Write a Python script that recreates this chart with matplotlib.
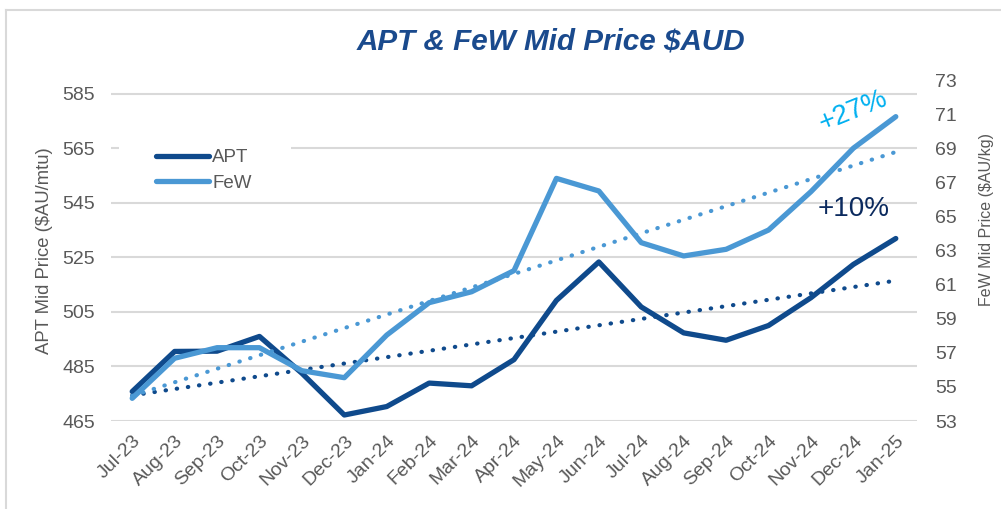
import numpy as np
import matplotlib
matplotlib.use("Agg")
import matplotlib.pyplot as plt
from matplotlib.lines import Line2D
from matplotlib.patches import Rectangle

plt.rcParams['font.family'] = ['Liberation Sans', 'DejaVu Sans']

months = ["Jul-23", "Aug-23", "Sep-23", "Oct-23", "Nov-23", "Dec-23", "Jan-24",
          "Feb-24", "Mar-24", "Apr-24", "May-24", "Jun-24", "Jul-24", "Aug-24",
          "Sep-24", "Oct-24", "Nov-24", "Dec-24", "Jan-25"]
apt = [475.8, 490.5, 490.6, 496.0, 482.5, 467.2, 470.3, 478.9, 477.9, 487.5,
       509.2, 523.3, 506.8, 497.3, 494.6, 500.0, 510.2, 522.4, 531.9]
few = [54.33, 56.68, 57.30, 57.30, 55.95, 55.54, 58.04, 59.94, 60.58, 61.82,
       67.23, 66.49, 63.46, 62.68, 63.07, 64.20, 66.45, 69.00, 70.85]
left_ticks = [465, 485, 505, 525, 545, 565, 585]
right_ticks = [53, 55, 57, 59, 61, 63, 65, 67, 69, 71, 73]

C_APT = "#0F4A8C"
C_FEW = "#4A98D4"
C_TXT = "#595959"
C_GRID = "#D9D9D9"

W, H = 1001, 509
fig = plt.figure(figsize=(W / 100, H / 100), dpi=100)
ax = fig.add_axes([111 / W, 1 - 421 / H, (917 - 111) / W, (421 - 80) / H])
ax2 = ax.twinx()

x = np.arange(len(months))

ax.set_xlim(-0.5, len(months) - 0.5)
ax.set_ylim(465, 590)
ax2.set_ylim(53, 73)
ax.set_yticks(left_ticks)
ax2.set_yticks(right_ticks)

ax.grid(axis='y', color=C_GRID, linewidth=1.5)
ax.set_axisbelow(True)
for a in (ax, ax2):
    for s in a.spines.values():
        s.set_visible(False)
    a.tick_params(length=0, colors=C_TXT, labelsize=14)

ax.set_xticks(x)
ax.set_xticklabels(months, rotation=45, ha='right', rotation_mode='anchor')
ax.tick_params(axis='x', pad=8)
ax.tick_params(axis='y', pad=11.5)
ax2.tick_params(axis='y', pad=13)

# white patch behind the legend (covers the gridline like the source)
ax.add_patch(Rectangle((119 / W, 1 - 195 / H), (291 - 119) / W, (195 - 138) / H,
                       transform=fig.transFigure, facecolor='white', edgecolor='none',
                       zorder=1.5))

# trendlines (linear fits of the data)
ca = np.polyfit(x, apt, 1)
cf = np.polyfit(x, few, 1)
ax.plot(x, np.polyval(ca, x), color=C_APT, linewidth=3, linestyle=(0, (0.1, 2.6)),
        dash_capstyle='round', zorder=2)
ax2.plot(x, np.polyval(cf, x), color=C_FEW, linewidth=3, linestyle=(0, (0.1, 2.6)),
         dash_capstyle='round', zorder=2)

l1, = ax.plot(x, apt, color=C_APT, linewidth=3.8, solid_capstyle='round',
              solid_joinstyle='round', zorder=3, label="APT")
l2, = ax2.plot(x, few, color=C_FEW, linewidth=3.8, solid_capstyle='round',
               solid_joinstyle='round', zorder=3, label="FeW")

fig.text(45 / W, 1 - 251 / H, "APT Mid Price ($AU/mtu)", color=C_TXT, fontsize=13.3,
         rotation=90, ha='center', va='center')
fig.text(987 / W, 1 - 220 / H, "FeW Mid Price ($AU/kg)", color=C_TXT, fontsize=11.5,
         rotation=90, ha='center', va='center')

ax2.text(17.0, 578.7, "+27%", transform=ax.transData, color="#00B0F0", fontsize=20,
         rotation=22, ha='center', va='center', zorder=5)
ax2.text(17.0, 542.7, "+10%", transform=ax.transData, color="#0B2A5E", fontsize=20,
         ha='center', va='center', zorder=5)

leg = ax2.legend(handles=[l1, l2], loc='upper left',
                 bbox_to_anchor=(141 / W, 1 - 134 / H), bbox_transform=fig.transFigure,
                 frameon=False, fontsize=13.5, handlelength=2.8, handletextpad=0.2,
                 labelspacing=0.45, borderpad=0.3)
for t in leg.get_texts():
    t.set_color(C_TXT)

fig.text(551 / W, 1 - 42 / H, "APT & FeW Mid Price $AUD", color="#1A4A8D",
         fontsize=21.3, fontweight='bold', fontstyle='italic', ha='center', va='center')

# chart-area border
fig.add_artist(Line2D([5.5 / W, 1.0], [1 - 9.5 / H, 1 - 9.5 / H], color=C_GRID,
                      linewidth=1.5, transform=fig.transFigure))
fig.add_artist(Line2D([5.5 / W, 5.5 / W], [0, 1 - 9.5 / H], color=C_GRID,
                      linewidth=1.5, transform=fig.transFigure))

fig.savefig("out.png", dpi=100, facecolor='white')
